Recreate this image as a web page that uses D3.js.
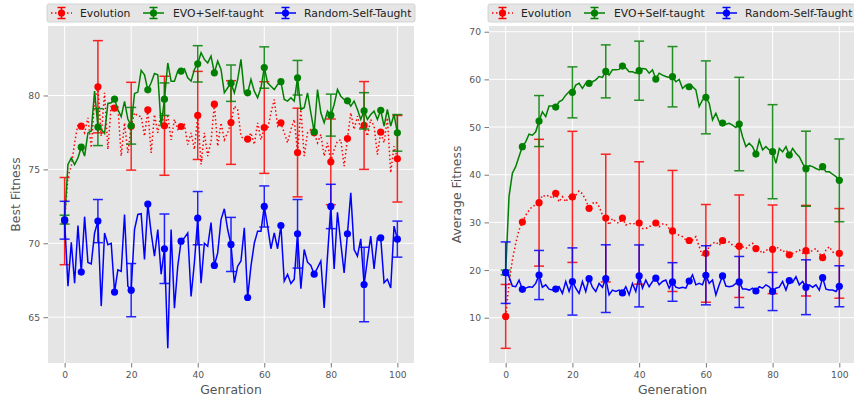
<!DOCTYPE html>
<html lang="en">
<head>
  <meta charset="UTF-8">
  <script src="https://d3js.org/d3.v7.min.js"></script>
  <title>fitness</title>
  <style>
    body { margin: 0; background: #fff; }
    text { font-family: "DejaVu Sans", sans-serif; }
  </style>
</head>
<body>
<script>
  // generations 0..100, markers every 5, error bars every 10
  let generations = d3.range(0, 101)
  let errGenerations = [0, 10, 20, 30, 40, 50, 60, 70, 80, 90, 100]
  let seriesNames = ['Evolution', 'EVO+Self-taught', 'Random-Self-Taught']

  // ---- Best Fitness ----
  let bestEvolution = [71.5, 74.54, 75.22, 76.8, 78.04, 77.92, 77.47, 78.49, 76.46, 79.62,
    80.59, 77.25, 80.18, 76.35, 79.39, 79.14, 79.28, 75.9, 78.15, 76.12,
    77.92, 78.83, 78.6, 78.6, 77.25, 79.03, 76.12, 78.71, 77.47, 78.83,
    77.95, 78.6, 77.0, 78.38, 77.7, 77.9, 78.04, 76.68, 77.47, 76.35,
    78.65, 75.33, 77.47, 75.9, 76.9, 79.41, 76.57, 78.15, 77.0, 77.47,
    78.17, 79.28, 79.05, 77.25, 77.0, 77.05, 77.47, 76.68, 78.15, 77.0,
    77.83, 77.7, 78.83, 79.73, 77.92, 78.15, 77.47, 76.8, 77.7, 78.38,
    76.14, 79.05, 75.9, 77.47, 77.7, 77.47, 76.8, 77.36, 75.9, 76.8,
    75.51, 76.35, 76.9, 77.0, 75.22, 77.09, 78.83, 77.7, 78.6, 77.7,
    77.97, 77.25, 78.38, 77.92, 76.0, 77.52, 76.8, 78.49, 74.77, 76.57,
    75.72]
  let bestEvoSelf = [71.6, 75.33, 75.78, 75.33, 75.78, 76.5, 75.9, 77.47, 77.6, 80.3,
    77.86, 77.7, 77.43, 79.46, 79.5, 79.75, 79.05, 78.56, 79.6, 78.4,
    77.95, 80.13, 80.23, 81.7, 81.4, 80.38, 80.86, 81.49, 81.4, 77.9,
    79.75, 82.2, 80.97, 80.97, 81.65, 81.65, 81.8, 81.2, 80.97, 81.76,
    82.14, 82.89, 82.44, 82.2, 82.66, 81.53, 82.32, 81.76, 80.18, 80.52,
    80.83, 80.18, 81.08, 82.44, 80.18, 80.18, 81.08, 80.29, 79.84, 80.52,
    81.89, 80.86, 80.63, 80.4, 80.74, 80.93, 79.73, 79.62, 79.84, 79.62,
    81.2, 79.05, 79.17, 80.18, 78.83, 77.54, 80.4, 78.83, 78.15, 78.94,
    78.67, 79.39, 80.4, 79.95, 79.73, 79.64, 79.28, 79.62, 79.05, 78.38,
    78.96, 78.38, 78.71, 78.94, 78.38, 79.0, 77.93, 79.05, 77.93, 78.71,
    77.47]
  let bestRandom = [71.56, 67.1, 70.07, 67.3, 71.2, 68.05, 71.8, 68.7, 68.6, 70.7,
    71.5, 65.75, 70.7, 69.9, 70.0, 66.7, 68.2, 68.1, 71.95, 67.1,
    66.83, 70.93, 71.95, 72.0, 68.9, 72.65, 70.7, 69.13, 70.93, 67.9,
    69.63, 62.9, 70.93, 65.6, 68.45, 70.14, 70.37, 70.7, 66.4, 68.7,
    71.7, 67.3, 70.0, 69.8, 71.4, 68.5, 69.35, 71.6, 72.33, 70.93,
    69.92, 67.33, 68.45, 68.8, 71.04, 66.33, 68.45, 70.0, 70.82, 70.82,
    72.49, 71.16, 69.63, 70.7, 69.63, 71.2, 67.44, 67.9, 67.28, 67.56,
    70.64, 66.92, 69.58, 68.72, 68.5, 67.91, 68.34, 68.8, 65.63, 69.13,
    72.49, 68.27, 72.1, 70.0, 68.0, 70.64, 73.42, 69.58, 69.13, 70.3,
    67.21, 68.9, 70.48, 68.27, 70.37, 70.37, 67.33, 67.56, 66.98, 71.16,
    70.28]
  let bestEvolutionErr = [2.95, 3.12, 2.97, 3.35, 2.98, 2.83, 3.1, 3.0, 2.9, 2.97, 2.93]
  let bestEvoSelfErr = [0.3, 1.25, 1.24, 1.1, 1.23, 1.23, 1.4, 1.17, 1.42, 1.23, 1.24]
  let bestRandomErr = [1.28, 1.46, 1.8, 2.35, 1.8, 1.83, 1.39, 2.32, 1.5, 2.52, 1.22]

  // ---- Average Fitness ----
  let avgEvolution = [10.28, 17.2, 22.1, 25.6, 28.4, 30.07, 31.5, 32.5, 33.4, 33.6,
    34.13, 35.7, 35.4, 35.7, 35.0, 36.1, 34.3, 35.4, 34.3, 35.4,
    35.35, 35.7, 36.6, 36.0, 34.7, 32.94, 34.0, 34.3, 33.3, 31.55,
    30.9, 29.45, 30.8, 30.1, 29.8, 30.9, 29.45, 29.8, 29.65, 29.8,
    29.87, 28.7, 28.7, 29.1, 29.45, 29.87, 29.1, 29.65, 29.65, 28.7,
    28.2, 27.7, 27.3, 27.0, 26.3, 26.2, 26.3, 27.0, 24.9, 22.8,
    23.5, 24.9, 25.6, 25.9, 25.2, 26.2, 25.7, 25.9, 25.2, 24.9,
    25.0, 24.9, 24.5, 25.2, 25.6, 24.5, 24.2, 23.5, 24.2, 24.2,
    24.35, 24.9, 24.5, 23.8, 24.2, 23.2, 23.5, 23.8, 24.2, 23.5,
    24.06, 23.5, 24.2, 24.5, 23.5, 22.6, 24.2, 24.9, 23.8, 23.5,
    23.5]
  let avgEvoSelf = [19.5, 35.4, 40.3, 41.7, 43.8, 45.88, 46.9, 48.5, 48.3, 49.0,
    51.26, 53.2, 52.2, 54.4, 54.4, 54.2, 55.3, 55.7, 56.7, 57.4,
    57.28, 58.8, 59.17, 58.1, 59.2, 59.17, 59.5, 59.9, 60.6, 60.4,
    61.68, 60.9, 62.0, 62.0, 62.1, 62.8, 62.4, 61.6, 61.6, 61.3,
    61.82, 62.3, 62.2, 61.3, 62.0, 60.07, 61.3, 60.9, 60.6, 60.4,
    60.56, 59.5, 60.0, 58.1, 58.8, 58.46, 58.47, 57.8, 54.3, 55.7,
    56.23, 55.0, 51.5, 52.9, 51.1, 50.84, 50.6, 50.8, 50.4, 49.9,
    50.63, 47.98, 45.9, 46.6, 45.9, 44.34, 47.3, 45.2, 45.9, 45.2,
    44.83, 42.4, 45.5, 44.8, 45.9, 44.13, 45.5, 44.5, 43.8, 42.4,
    41.26, 41.9, 41.7, 41.3, 41.0, 41.68, 40.6, 40.6, 40.1, 39.6,
    38.82]
  let avgRandom = [19.45, 18.6, 16.65, 16.5, 17.9, 15.95, 16.2, 16.5, 16.4, 17.2,
    18.96, 16.4, 16.9, 16.0, 15.8, 16.0, 16.5, 15.1, 17.6, 15.5,
    17.6, 16.2, 15.1, 17.6, 15.5, 18.2, 16.4, 15.5, 17.2, 16.4,
    18.2, 14.8, 15.8, 15.5, 15.8, 15.2, 16.5, 14.8, 17.2, 15.5,
    18.77, 16.2, 17.9, 16.5, 17.6, 18.3, 16.9, 17.6, 17.9, 16.2,
    17.5, 16.4, 16.2, 16.4, 16.2, 17.7, 19.0, 16.9, 17.2, 16.9,
    18.9, 17.2, 17.9, 14.8, 16.9, 18.77, 16.65, 16.5, 16.65, 17.2,
    17.5, 16.0, 16.0, 15.8, 16.2, 15.6, 16.5, 16.2, 16.9, 16.5,
    15.5, 16.2, 16.4, 17.6, 15.8, 17.8, 17.4, 18.6, 16.9, 17.6,
    16.4, 16.9, 16.4, 16.9, 15.8, 18.4, 16.0, 15.8, 15.8, 15.5,
    16.6]
  let avgEvolutionErr = [6.7, 13.3, 13.75, 13.4, 12.85, 12.7, 10.25, 10.75, 9.3, 9.5, 9.4]
  let avgEvoSelfErr = [0.5, 5.35, 5.35, 5.56, 6.2, 6.33, 7.65, 9.8, 9.87, 7.87, 8.68]
  let avgRandomErr = [6.45, 5.15, 7.05, 7.1, 6.5, 4.05, 6.2, 5.35, 4.0, 5.75, 4.3]

  let leftTicks = [65, 70, 75, 80]
  let rightTicks = [10, 20, 30, 40, 50, 60, 70]
  let xTicks = [0, 20, 40, 60, 80, 100]

  let colors = ['#ff0000', '#008000', '#0000ff']
  let dashes = ['1.5,2.5', null, null]

  let width = 854
  let height = 401
  let plotTop = 26
  let plotBottom = 363

  let svg = d3.select('body')
    .append('svg')
    .attr('width', width)
    .attr('height', height)

  let panels = [
    {
      x0: 48, x1: 414, yDomain: [61.9, 84.7], yTicks: leftTicks,
      ylabel: 'Best Fitness', xlabel: 'Genration',
      values: [bestEvolution, bestEvoSelf, bestRandom],
      errs: [bestEvolutionErr, bestEvoSelfErr, bestRandomErr]
    },
    {
      x0: 489, x1: 856, yDomain: [0.5, 71.2], yTicks: rightTicks,
      ylabel: 'Average Fitness', xlabel: 'Generation',
      values: [avgEvolution, avgEvoSelf, avgRandom],
      errs: [avgEvolutionErr, avgEvoSelfErr, avgRandomErr]
    }
  ]

  panels.forEach(p => {
    let x = d3.scaleLinear().domain([-5, 105]).range([p.x0, p.x1])
    let y = d3.scaleLinear().domain(p.yDomain).range([plotBottom, plotTop])

    let g = svg.append('g')

    // plot background
    g.append('rect')
      .attr('x', p.x0).attr('y', plotTop)
      .attr('width', p.x1 - p.x0).attr('height', plotBottom - plotTop)
      .attr('fill', '#e5e5e5')

    // grid
    g.selectAll('.vgrid').data(xTicks).enter().append('line')
      .attr('x1', d => x(d)).attr('x2', d => x(d))
      .attr('y1', plotTop).attr('y2', plotBottom)
      .attr('stroke', '#fff').attr('stroke-width', 1)
    g.selectAll('.hgrid').data(p.yTicks).enter().append('line')
      .attr('x1', p.x0).attr('x2', p.x1)
      .attr('y1', d => y(d)).attr('y2', d => y(d))
      .attr('stroke', '#fff').attr('stroke-width', 1)

    // axes
    let xAxis = g.append('g')
      .attr('transform', `translate(0,${plotBottom})`)
      .call(d3.axisBottom(x).tickValues(xTicks).tickSize(4.5).tickPadding(3.5))
    let yAxis = g.append('g')
      .attr('transform', `translate(${p.x0},0)`)
      .call(d3.axisLeft(y).tickValues(p.yTicks).tickSize(4.5).tickPadding(3.5))
    ;[xAxis, yAxis].forEach(a => {
      a.select('.domain').remove()
      a.selectAll('line').attr('stroke', '#555').attr('stroke-width', 0.8)
      a.selectAll('text').attr('fill', '#555').style('font-size', '9.2px')
        .style('font-family', 'DejaVu Sans')
    })

    // axis labels
    g.append('text')
      .attr('x', (p.x0 + p.x1) / 2).attr('y', 394)
      .attr('text-anchor', 'middle')
      .attr('fill', '#555').style('font-size', '12.4px')
      .text(p.xlabel)
    g.append('text')
      .attr('transform', `translate(${p.x0 - 28.5},${(plotTop + plotBottom) / 2}) rotate(-90)`)
      .attr('text-anchor', 'middle')
      .attr('fill', '#555').style('font-size', '12.4px')
      .text(p.ylabel)

    // series: error bars, line, markers
    let line = d3.line().x((d, i) => x(generations[i])).y(d => y(d))
    p.values.forEach((vals, s) => {
      let ebars = errGenerations.map((gen, k) => ({ gen: gen, v: vals[gen], e: p.errs[s][k] }))
      let eg = g.append('g').attr('stroke', colors[s]).attr('stroke-width', 1.5).attr('opacity', 0.85)
      ebars.forEach(b => {
        let cx = x(b.gen)
        eg.append('line').attr('x1', cx).attr('x2', cx)
          .attr('y1', y(b.v - b.e)).attr('y2', y(b.v + b.e))
        ;[b.v - b.e, b.v + b.e].forEach(c => {
          eg.append('line').attr('x1', cx - 5).attr('x2', cx + 5)
            .attr('y1', y(c)).attr('y2', y(c))
        })
      })

      g.append('path')
        .datum(vals)
        .attr('d', line)
        .attr('fill', 'none')
        .attr('stroke', colors[s])
        .attr('stroke-width', 1.5)
        .attr('stroke-dasharray', dashes[s])

      g.selectAll('.m' + s)
        .data(generations.filter(gen => gen % 5 === 0))
        .enter().append('circle')
        .attr('cx', gen => x(gen))
        .attr('cy', gen => y(vals[gen]))
        .attr('r', 3.6)
        .attr('fill', colors[s])
    })

    // legend
    let lg = g.append('g')
    lg.append('rect')
      .attr('x', p.x0 - 1).attr('y', 4)
      .attr('width', p.x1 - p.x0 + 2).attr('height', 18)
      .attr('rx', 2)
      .attr('fill', '#e5e5e5').attr('stroke', '#cccccc').attr('stroke-width', 0.8)
    let handleX = [3, 95, 227]
    let textX = [32, 125, 256]
    seriesNames.forEach((name, s) => {
      let hx = p.x0 + handleX[s]
      let cy = 13
      lg.append('line')
        .attr('x1', hx).attr('x2', hx + 21)
        .attr('y1', cy).attr('y2', cy)
        .attr('stroke', colors[s]).attr('stroke-width', 1.5)
        .attr('stroke-dasharray', dashes[s])
      let mx = hx + 10.5
      lg.append('line').attr('x1', mx).attr('x2', mx).attr('y1', cy - 5.5).attr('y2', cy + 5.5)
        .attr('stroke', colors[s]).attr('stroke-width', 1.5)
      ;[cy - 5.5, cy + 5.5].forEach(c => {
        lg.append('line').attr('x1', mx - 4).attr('x2', mx + 4).attr('y1', c).attr('y2', c)
          .attr('stroke', colors[s]).attr('stroke-width', 1.5)
      })
      lg.append('circle').attr('cx', mx).attr('cy', cy).attr('r', 3.6).attr('fill', colors[s])
      lg.append('text')
        .attr('x', p.x0 + textX[s]).attr('y', cy + 4)
        .attr('fill', '#222').style('font-size', '10.8px')
        .text(name)
    })
  })
</script>
</body>
</html>
